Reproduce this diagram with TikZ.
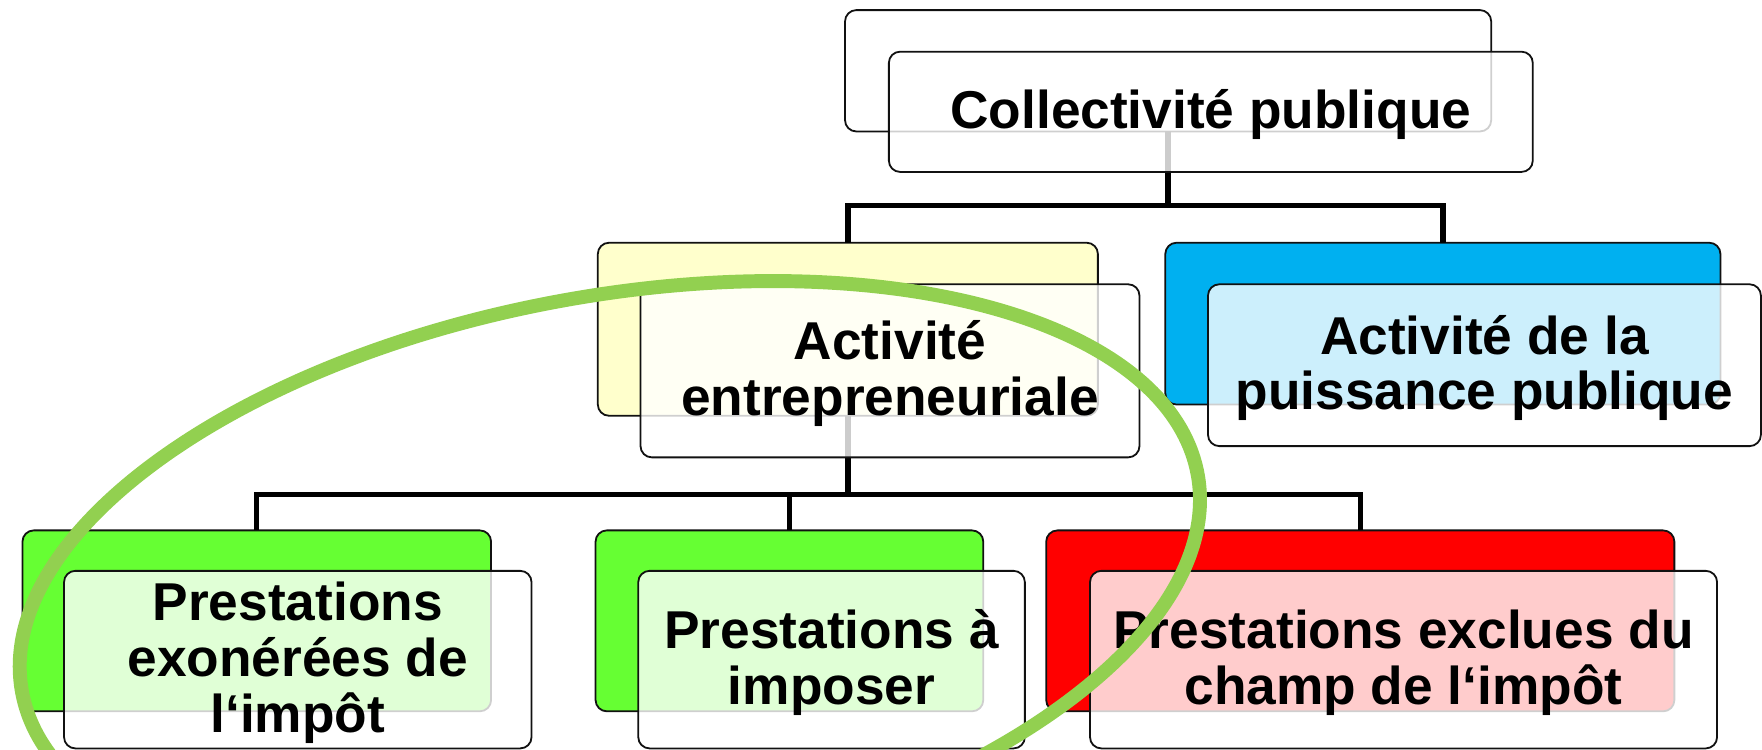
\documentclass[tikz,border=0pt]{standalone}
\usepackage{fontspec}
\setmainfont{Liberation Sans}
\definecolor{boxline}{HTML}{111111}
\definecolor{cyellow}{HTML}{FFFFCC}
\definecolor{cblue}{HTML}{00B0F0}
\definecolor{cgreen}{HTML}{66FF33}
\definecolor{cred}{HTML}{FF0000}
\definecolor{cell}{HTML}{92D050}
\newcommand{\boxfont}{\fontsize{23.7pt}{24.8pt}\selectfont\bfseries}
\newcommand{\boxtext}[1]{\raisebox{-2.5pt}[\height][\depth]{\begin{tabular}{@{}c@{}}#1\end{tabular}}}
\begin{document}
\begin{tikzpicture}[x=0.5pt,y=-0.5pt,
  backbox/.style={draw=boxline, line width=0.8pt, rounded corners=5pt, inner sep=0pt, outer sep=0pt},
  frontbox/.style={draw=boxline, line width=0.8pt, rounded corners=5pt, inner sep=0pt, outer sep=0pt,
     fill=white, fill opacity=0.8, text opacity=1, font=\boxfont},
  conn/.style={line width=2.4pt, draw=black},
  ell/.style={line width=6.2pt, draw=cell}]
\useasboundingbox (0,0) rectangle (1568,667);
\clip (0,0) rectangle (1568,667);
\fill[white] (0,0) rectangle (1568,667);
% back boxes
\node[backbox, fill=white, minimum width=287.5pt, minimum height=54pt] (b1) at (1039.5,63) {};
\node[backbox, fill=cyellow, minimum width=222.5pt, minimum height=77pt] (b2) at (754.5,293) {};
\node[backbox, fill=cblue, minimum width=247pt, minimum height=72pt] (b3) at (1284,288) {};
\node[backbox, fill=cgreen, minimum width=208.5pt, minimum height=80.5pt] (b4) at (228.5,552.5) {};
\node[backbox, fill=cgreen, minimum width=172.5pt, minimum height=80.5pt] (b5) at (702.5,552.5) {};
\node[backbox, fill=cred, minimum width=279.5pt, minimum height=80.5pt] (b6) at (1210.5,552.5) {};
% connectors
\coordinate (h1) at (0,183);
\coordinate (h2) at (0,440);
\draw[conn] (b1.south) -- (b1.south |- h1);
\draw[conn, line join=miter] (b2.north) |- (h1 -| b3.north) -- (b3.north);
\draw[conn] (b2.south) -- (b2.south |- h2);
\draw[conn, line join=miter] (b4.north) |- (h2 -| b6.north) -- (b6.north);
\draw[conn] (b5.north) -- (b5.north |- h2);
% front boxes
\node[frontbox, minimum width=286.5pt, minimum height=53.5pt] (f1) at (1077.5,99.5) {\boxtext{Collectivité publique}};
\node[frontbox, minimum width=222pt, minimum height=77pt] (f2) at (792,330) {\boxtext{Activité\\entrepreneuriale}};
\node[frontbox, minimum width=246pt, minimum height=72pt] (f3) at (1321,325) {\boxtext{Activité de la\\puissance publique}};
\node[frontbox, minimum width=208pt, minimum height=79pt] (f4) at (265,587) {\boxtext{Prestations\\exonérées de\\l‘impôt}};
\node[frontbox, minimum width=172pt, minimum height=79pt] (f5) at (740,587) {\boxtext{Prestations à\\imposer}};
\node[frontbox, minimum width=279pt, minimum height=79pt] (f6) at (1249,587) {\boxtext{Prestations exclues du\\champ de l‘impôt}};
% ellipse
\draw[ell, rotate around={10.5:(542.7,519)}] (542.7,519) ellipse [x radius=532, y radius=255];
\end{tikzpicture}
\end{document}
